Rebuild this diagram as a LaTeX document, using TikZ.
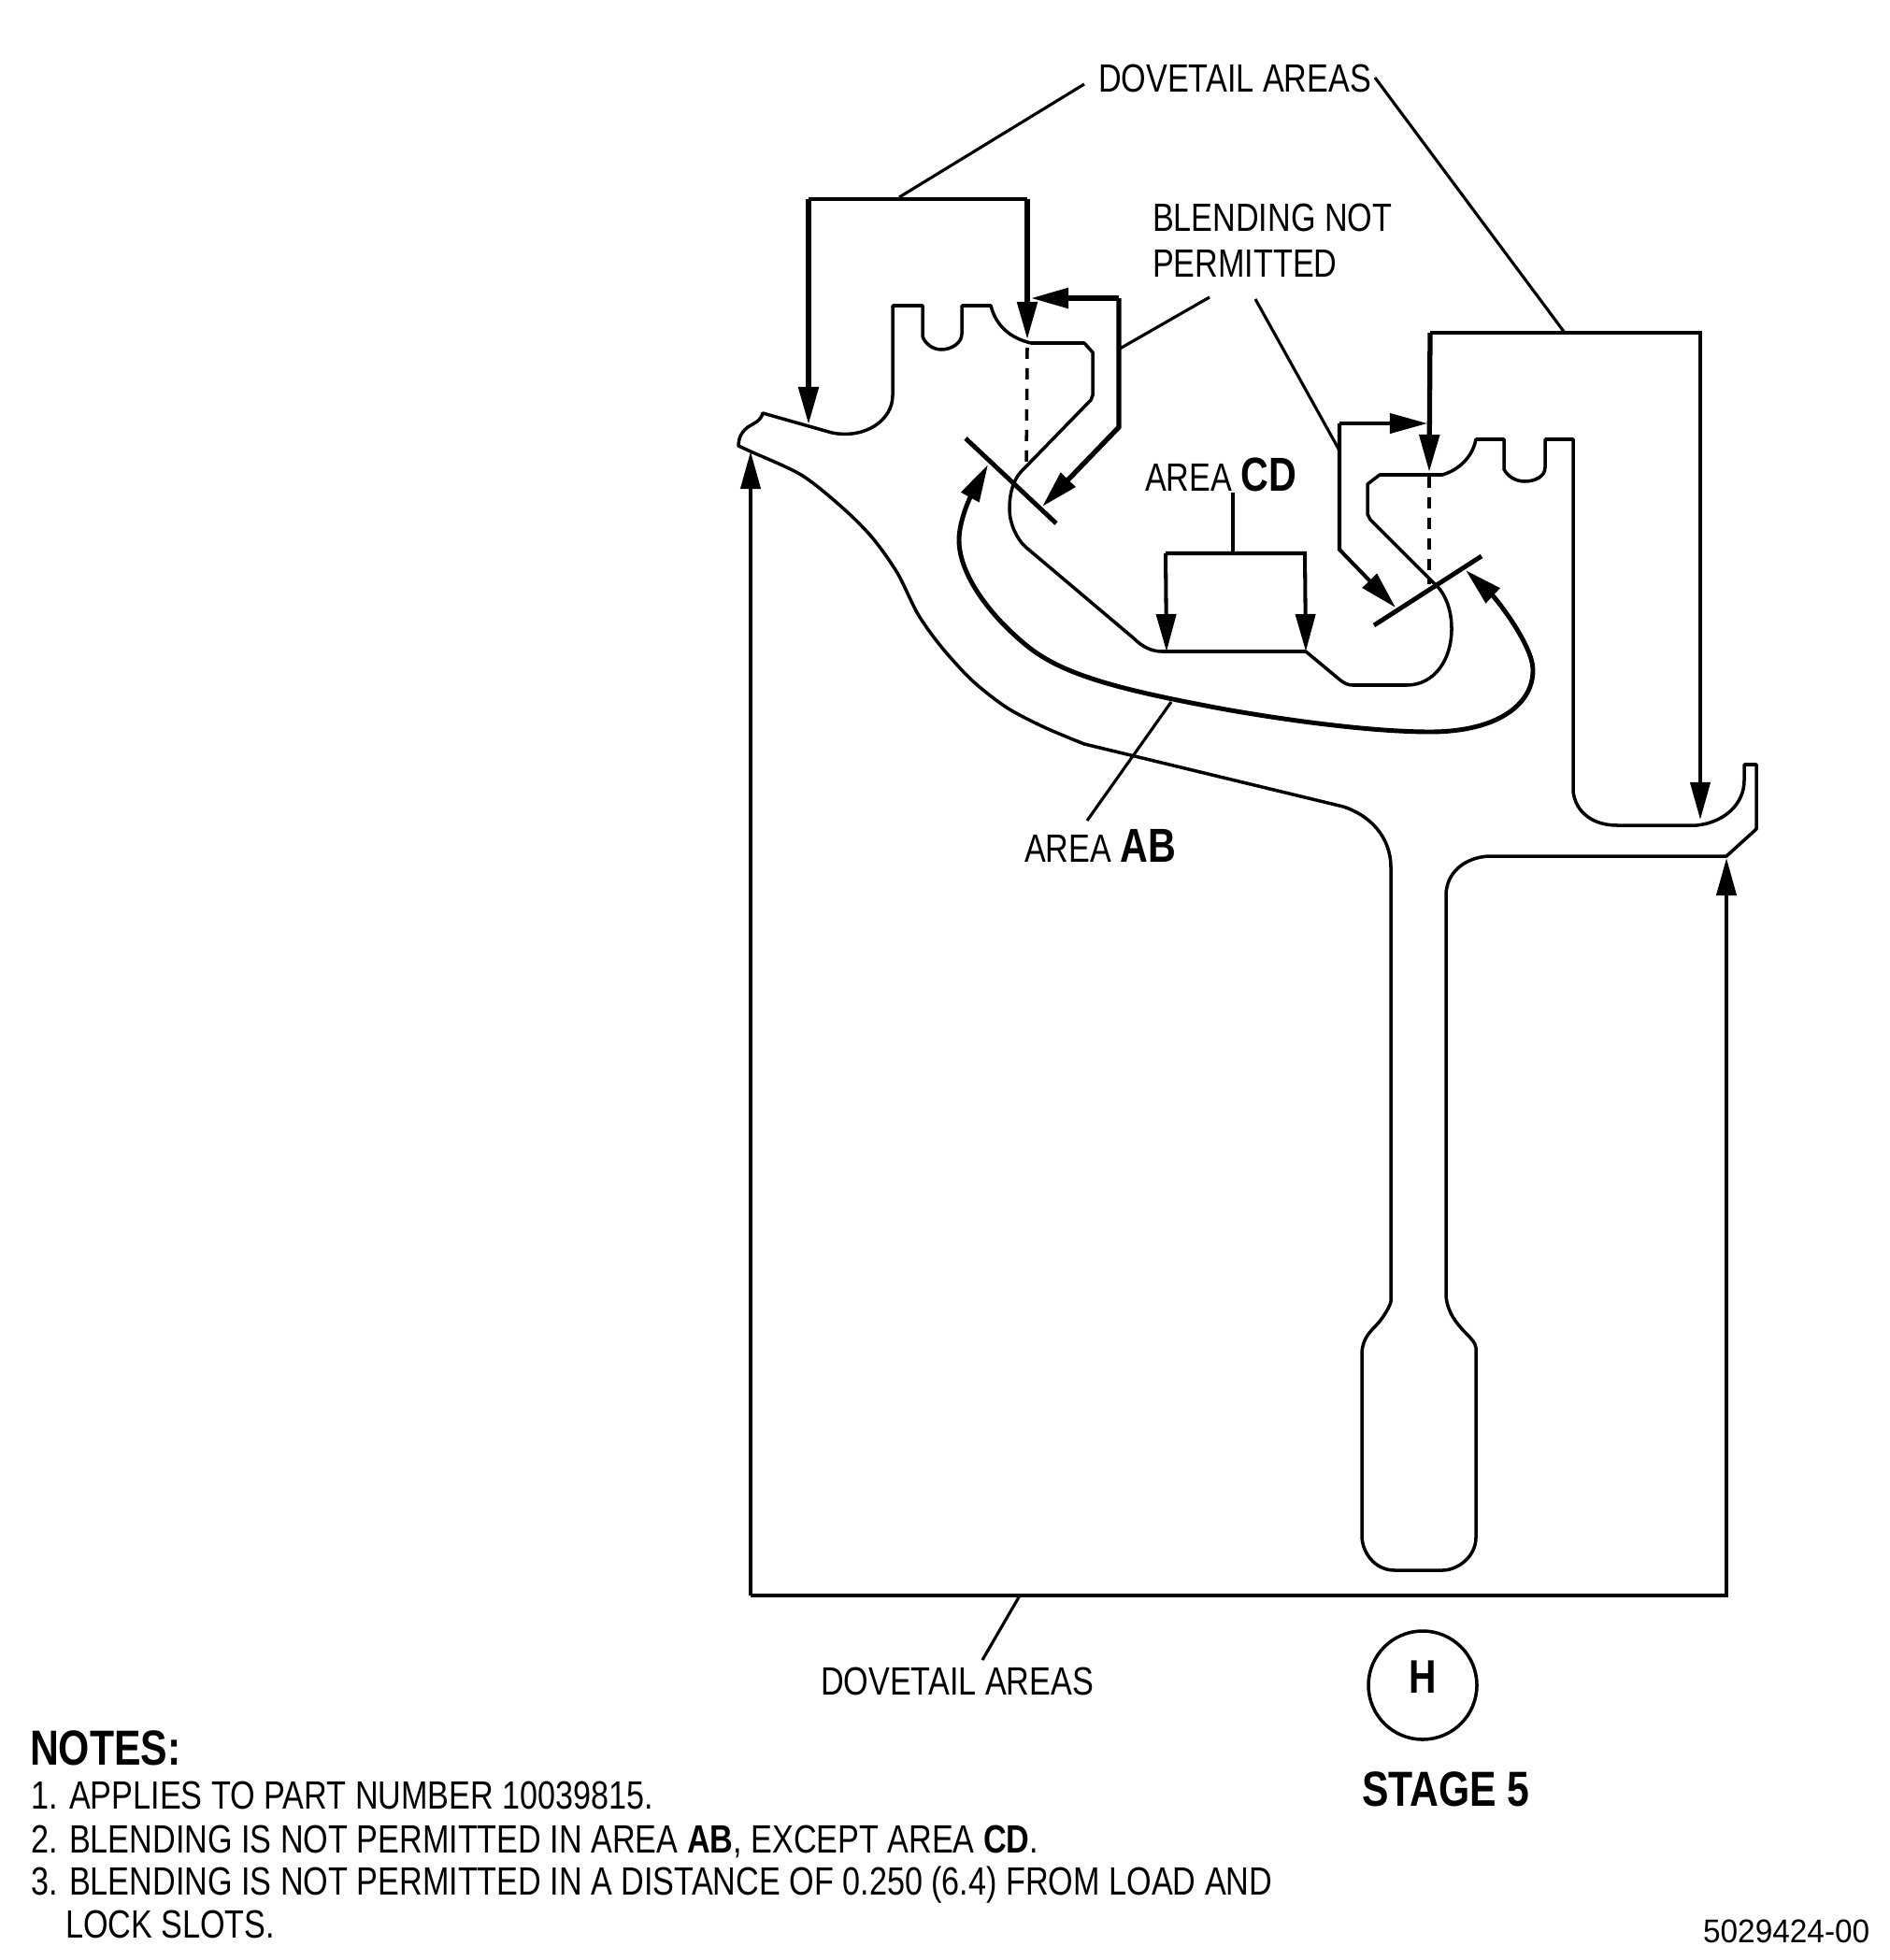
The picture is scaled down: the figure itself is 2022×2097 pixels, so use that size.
\documentclass[tikz,border=0pt]{standalone}
\usepackage{fontspec}
\setmainfont{Liberation Sans}[FakeStretch=0.81]
\newfontfamily\numfont{Liberation Sans}[FakeStretch=0.95]
\usetikzlibrary{arrows.meta}
\newcommand{\ft}{\fontsize{12}{14}\selectfont}
\newcommand{\bg}{\fontsize{14.5}{16}\selectfont\bfseries}
\tikzset{
  part/.style={draw=black,line width=1pt,line join=round},
  brk/.style={draw=black,line width=1.15pt},
  brkth/.style={draw=black,line width=1.5pt},
  lead/.style={draw=black,line width=0.9pt},
  tick/.style={draw=black,line width=1.4pt},
  arr/.style={-{Triangle[length=4mm,width=2.1mm]}},
  lbl/.style={anchor=base west,inner sep=0pt,outer sep=0pt,font=\ft},
}
\begin{document}
\begin{tikzpicture}[x=0.01cm,y=-0.01cm]
\useasboundingbox (0,0) rectangle (2022,2097);
% part outline
\draw[part] (790,477)
  .. controls (790,465) and (797,458) .. (805,454)
  .. controls (811,451) and (815,447) .. (816,442)
  -- (890,463)
  .. controls (925,470) and (955,450) .. (955,423)
  -- (955,327) -- (987,327) -- (987,360)
  .. controls (990,368) and (998,374) .. (1007,374)
  .. controls (1018,374) and (1029,367) .. (1029,357)
  -- (1029,327) -- (1060,327)
  .. controls (1066,350) and (1082,362) .. (1103,367)
  -- (1160,367) -- (1169,377) -- (1169,423) -- (1167,428) -- (1092,505)
  .. controls (1085,513) and (1080,525) .. (1080,545)
  .. controls (1080,560) and (1088,577) .. (1097,585)
  -- (1213,683)
  .. controls (1222,692) and (1232,697) .. (1243,697)
  -- (1397,697) -- (1433,727)
  .. controls (1438,731) and (1442,733) .. (1447,733)
  -- (1505,733)
  .. controls (1535,733) and (1553,705) .. (1553,673)
  .. controls (1553,655) and (1548,640) .. (1540,630)
  -- (1466,556) -- (1463,550) -- (1463,518) -- (1476,508) -- (1543,508)
  .. controls (1560,503) and (1575,490) .. (1579,470)
  -- (1609,470) -- (1609,502)
  .. controls (1613,510) and (1622,515) .. (1631,515)
  .. controls (1642,515) and (1653,510) .. (1653,500)
  -- (1653,470) -- (1683,470) -- (1683,847)
  .. controls (1686,870) and (1705,883) .. (1730,883)
  -- (1815,883)
  .. controls (1845,880) and (1866,860) .. (1866,835)
  -- (1866,818) -- (1879,818) -- (1879,887) -- (1847,916) -- (1592,916)
  .. controls (1565,918) and (1547,935) .. (1547,958)
  -- (1547,1387)
  .. controls (1549,1405) and (1558,1415) .. (1565,1423)
  .. controls (1572,1430) and (1579,1437) .. (1579,1442)
  -- (1579,1645)
  .. controls (1579,1665) and (1560,1680) .. (1543,1680)
  -- (1492,1680)
  .. controls (1470,1680) and (1457,1660) .. (1457,1643)
  -- (1457,1447)
  .. controls (1458,1430) and (1468,1423) .. (1475,1415)
  .. controls (1483,1405) and (1488,1395) .. (1488,1392)
  -- (1488,928)
  .. controls (1488,895) and (1465,872) .. (1437,863)
  -- (1160,796)
  -- plot[smooth] coordinates {(1160,796) (1117,778) (1077,757) (1040,728) (1007,692) (982,657) (960,613) (933,575) (900,542) (857,508) (803,483) (790,477)}
  -- cycle;
% dashed lines
\coordinate (d1a) at (1099,372); \coordinate (d1b) at (1098,496);
\coordinate (d2a) at (1529,510); \coordinate (d2b) at (1529,625);
\draw[line width=1pt,dash pattern=on 3.4pt off 2.85pt] (d1a) -- (d1b);
\draw[line width=1pt,dash pattern=on 3.4pt off 2.85pt] (d2a) -- (d2b);
% section ticks
\coordinate (t1a) at (1033,469); \coordinate (t1b) at (1130,560);
\coordinate (t2a) at (1470,669); \coordinate (t2b) at (1585,595);
\draw[tick] (t1a) -- (t1b);
\draw[tick] (t2a) -- (t2b);
% left top bracket
\coordinate (a1) at (865,454); \coordinate (a2) at (865,213);
\coordinate (a3) at (1099,213); \coordinate (a4) at (1099,363);
\draw[brk] (a2) -- (a3);
\draw[brkth,arr] (a2) -- (a1);
\draw[brkth,arr] (a3) -- (a4);
% blending bracket left
\coordinate (b1) at (1103,319); \coordinate (b2) at (1197,319);
\coordinate (b3) at (1197,457); \coordinate (b4) at (1115,542);
\draw[brkth,arr] (b2) -- (b1);
\draw[brkth,arr] (b2) -- (b3) -- (b4);
% right top bracket
\coordinate (c1) at (1529,505); \coordinate (c2) at (1530,356);
\coordinate (c3) at (1819,356); \coordinate (c4) at (1819,877);
\draw[brkth,arr] (c2) -- (c1);
\draw[brk,arr] (c2) -- (c3) -- (c4);
% blending bracket right
\coordinate (e1) at (1527,453); \coordinate (e2) at (1433,453);
\coordinate (e3) at (1433,588); \coordinate (e4) at (1493,650);
\draw[brk,arr] (e2) -- (e1);
\draw[brk,arr] (e2) -- (e3) -- (e4);
% area CD bracket
\coordinate (f1) at (1248,697); \coordinate (f2) at (1247,592);
\coordinate (f3) at (1396,592); \coordinate (f4) at (1397,697);
\draw[brk,arr] (f2) -- (f1);
\draw[brk,arr] (f2) -- (f3) -- (f4);
% area AB curve
\draw[line width=1.4pt,{Triangle[length=4mm,width=2.1mm]}-{Triangle[length=4mm,width=2.1mm]}]
  (1057,497) .. controls (1040,528) and (1026,555) .. (1026,578)
  .. controls (1026,615) and (1060,660) .. (1100,692)
  .. controls (1135,720) and (1190,736) .. (1290,755)
  .. controls (1330,763) and (1450,783) .. (1530,783)
  .. controls (1600,783) and (1640,755) .. (1640,717)
  .. controls (1640,690) and (1600,640) .. (1568,610);
% bottom bracket
\coordinate (g1) at (803,483); \coordinate (g2) at (803,1707);
\coordinate (g3) at (1847,1707); \coordinate (g4) at (1847,918);
\draw[brk,arr] (g2) -- (g1);
\draw[brk,arr] (g2) -- (g3) -- (g4);
% labels
\node[lbl] (dovetop) at (1175,99) {DOVETAIL AREAS};
\node[lbl] (blend1) at (1233,248) {BLENDING NOT};
\node[lbl] (blend2) at (1233,297) {PERMITTED};
\node[lbl] (areacd) at (1225,525) {AREA {\bg CD}};
\node[lbl] (areaab) at (1096,922) {AREA {\bg AB}};
\node[lbl] (dovebot) at (878,1813) {DOVETAIL AREAS};
\node[lbl,font=\fontsize{15}{17}\selectfont\bfseries] (notes) at (32,1888) {NOTES:};
\node[lbl] (n1) at (33,1935) {1. APPLIES TO PART NUMBER 10039815.};
\node[lbl] (n2) at (33,1982) {2. BLENDING IS NOT PERMITTED IN AREA \textbf{AB}, EXCEPT AREA \textbf{CD}.};
\node[lbl] (n3) at (33,2027) {3. BLENDING IS NOT PERMITTED IN A DISTANCE OF 0.250 (6.4) FROM LOAD AND};
\node[lbl] (n4) at (70,2073) {LOCK SLOTS.};
\node[lbl,font=\fontsize{15}{17}\selectfont\bfseries] (stage) at (1457,1932) {STAGE 5};
\node[lbl,font=\fontsize{10}{12}\selectfont\numfont] (num) at (1822,2078) {5029424-00};
\node[draw=black,line width=1pt,circle,minimum size=116*0.01cm,inner sep=0pt] (h) at (1522,1803) {};
\node[lbl,anchor=base,font=\fontsize{14.3}{16}\selectfont\bfseries] (hl) at (1522,1811) {H};
% leaders
\coordinate (l1) at (1160,90); \coordinate (l1b) at (962,211);
\coordinate (l2) at (1471,83); \coordinate (l2b) at (1674,356);
\coordinate (l3) at (1294,318); \coordinate (l3b) at (1198,373);
\coordinate (l4) at (1343,320); \coordinate (l4b) at (1433,482);
\coordinate (l5) at (1319,527); \coordinate (l5b) at (1319,592);
\coordinate (l6) at (1253,751); \coordinate (l6b) at (1163,878);
\coordinate (l7) at (1091,1707); \coordinate (l7b) at (1051,1776);
\foreach \p/\q in {l1/l1b,l2/l2b,l3/l3b,l4/l4b,l5/l5b,l6/l6b,l7/l7b} \draw[lead] (\p) -- (\q);
\end{tikzpicture}
\end{document}
